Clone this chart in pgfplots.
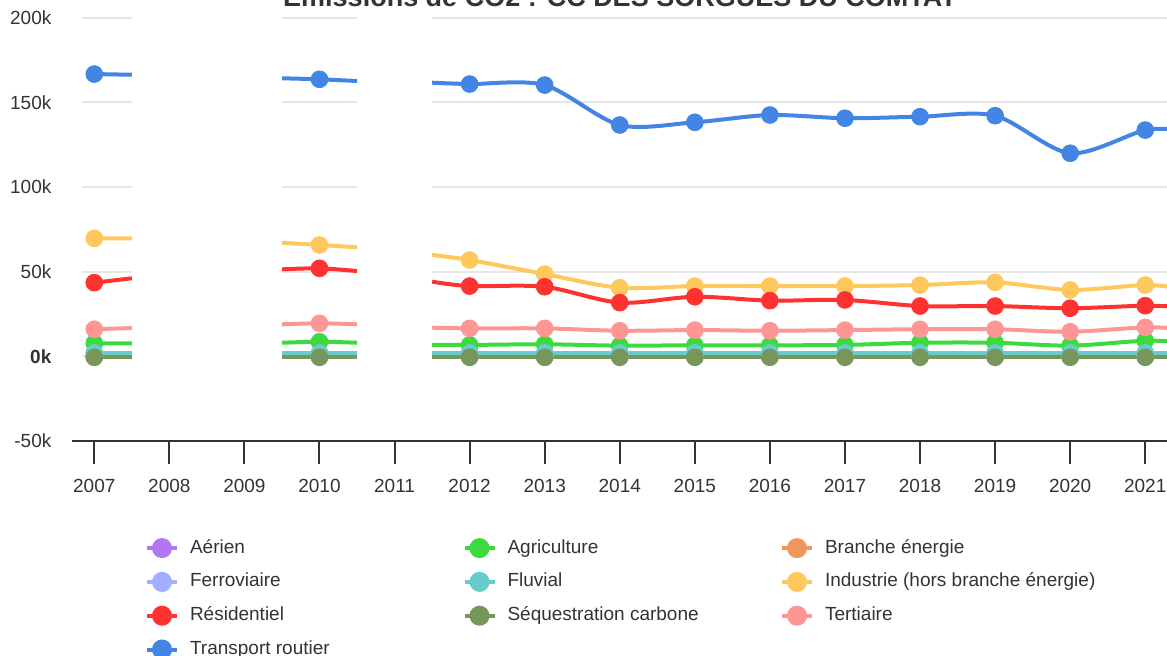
\documentclass[border=0pt]{standalone}
\usepackage{pgfplots}
\pgfplotsset{compat=1.18}
\usepackage{pgfplotstable}
\usepackage{fontspec}
\setmainfont{Liberation Sans}

\definecolor{caer}{RGB}{178,118,245}
\definecolor{cagr}{RGB}{60,218,60}
\definecolor{cbra}{RGB}{240,150,90}
\definecolor{cfer}{RGB}{160,175,255}
\definecolor{cflu}{RGB}{102,204,204}
\definecolor{cind}{RGB}{255,200,92}
\definecolor{cres}{RGB}{255,50,50}
\definecolor{cseq}{RGB}{118,150,90}
\definecolor{cter}{RGB}{255,150,150}
\definecolor{ctra}{RGB}{66,133,228}
\definecolor{c333}{RGB}{51,51,51}
\definecolor{gridc}{RGB}{230,230,230}

% emissions in kt CO2, nan = no data
\pgfplotstableread{
x      aer agr bra fer flu ind  res  seq  ter  tra
2007   0   7.7 0   0   2   69.7 43.5 -0.6 16.0 166.8
2007.5 0   7.7 0   0   2   69.7 46.1 -0.6 16.7 166.4
2008   nan nan nan nan nan nan  nan  nan  nan  nan
2009.5 0   8.0 0   0   2   67.1 51.4 -0.6 18.9 164.3
2010   0   8.6 0   0   2   65.8 52.0 -0.6 19.5 163.7
2010.5 0   8.0 0   0   2   64.4 50.4 -0.6 18.9 162.7
2011   nan nan nan nan nan nan  nan  nan  nan  nan
2011.5 0   6.7 0   0   2   59.9 44.1 -0.6 16.9 161.7
2012   0   6.7 0   0   2   56.9 41.5 -0.6 16.5 160.9
2013   0   7.1 0   0   2   48.6 41.1 -0.6 16.5 160.3
2014   0   6.3 0   0   2   40.5 31.7 -0.6 15.1 136.7
2015   0   6.5 0   0   2   41.5 35.2 -0.6 15.5 138.3
2016   0   6.5 0   0   2   41.5 32.9 -0.6 15.1 142.6
2017   0   6.7 0   0   2   41.5 33.3 -0.6 15.5 140.7
2018   0   8.0 0   0   2   42.1 29.7 -0.6 16.0 141.6
2019   0   8.0 0   0   2   43.7 29.7 -0.6 16.0 142.2
2020   0   6.3 0   0   2   39.2 28.4 -0.6 14.5 120.0
2021   0   9.2 0   0   2   42.1 29.9 -0.6 17.1 133.7
2021.5 0   8.3 0   0   2   40.0 29.0 -0.6 16.2 133.5
}\data

\pgfplotsset{
  ser/.style={color=#1, line width=2pt, smooth, mark=none},
  dots/.style={forget plot, only marks, mark=*, mark size=4.2pt, color=#1,
    x filter/.expression={abs(x-round(x))>0.1 ? nan : x}},
}
\newcommand{\series}[3]{%
  \addplot[ser=#1] table[y=#2]{\data};
  \addlegendentry{\makebox[135.75pt][l]{\hspace{2.5pt}#3}}
  \addplot[dots=#1] table[y=#2]{\data};
}

\begin{document}
\begin{tikzpicture}
\begin{axis}[
  scale only axis,
  width=547.5pt, height=211.5pt,
  xmin=2006.703, xmax=2021.29,
  ymin=-50, ymax=200,
  unbounded coords=jump,
  axis x line*=bottom,
  axis y line*=left,
  y axis line style={draw=none},
  x axis line style={c333, line width=1pt},
  xtick={2007,2008,...,2021},
  xticklabels={2007,2008,2009,2010,2011,2012,2013,2014,2015,2016,2017,2018,2019,2020,2021},
  ytick={-50,0,50,100,150,200},
  yticklabels={-50k,\textbf{0k},50k,100k,150k,200k},
  tick align=outside,
  x tick style={c333, line width=1pt},
  major tick length=11.5pt,
  y tick style={draw=none},
  tick label style={font=\fontsize{9.5}{11}\selectfont, text=c333},
  yticklabel style={xshift=4.7pt},
  xticklabel style={yshift=-4pt},
  legend columns=3,
  legend cell align=left,
  legend style={draw=none, fill=none, inner sep=0pt, outer sep=0pt,
    at={(0.0667,-0.218)}, anchor=north west,
    font=\fontsize{9.5}{11}\selectfont, text=c333,
    nodes={inner sep=3pt, text height=7pt, text depth=2pt},
    row sep=1.9pt,
    /tikz/every even column/.append style={column sep=0pt}},
  legend image code/.code={
    \draw[#1, mark=none, line width=2pt] (0pt,0pt) -- (15pt,0pt);
    \fill[#1] (7.5pt,0pt) circle (4pt);},
]
\pgfplotsinvokeforeach{0,50,100,150,200}{
  \draw[gridc, line width=1pt] (axis cs:2006.84,#1) -- (axis cs:2007.5,#1);
  \draw[gridc, line width=1pt] (axis cs:2009.5,#1) -- (axis cs:2010.5,#1);
  \draw[gridc, line width=1pt] (axis cs:2011.5,#1) -- (axis cs:2021.29,#1);
}
\series{caer}{aer}{Aérien}
\series{cagr}{agr}{Agriculture}
\series{cbra}{bra}{Branche énergie}
\series{cfer}{fer}{Ferroviaire}
\series{cflu}{flu}{Fluvial}
\series{cind}{ind}{Industrie (hors branche énergie)}
\series{cres}{res}{Résidentiel}
\series{cseq}{seq}{Séquestration carbone}
\series{cter}{ter}{Tertiaire}
\series{ctra}{tra}{Transport routier}
\end{axis}
\node[anchor=base, font=\fontsize{13.5}{16}\selectfont\bfseries, text=c333]
  at (274pt,216.95pt) {Émissions de CO2 : CC DES SORGUES DU COMTAT};
\pgfresetboundingbox
\path[use as bounding box] (-36pt,-107.55pt) rectangle (547.5pt,220.45pt);
\end{tikzpicture}
\end{document}
